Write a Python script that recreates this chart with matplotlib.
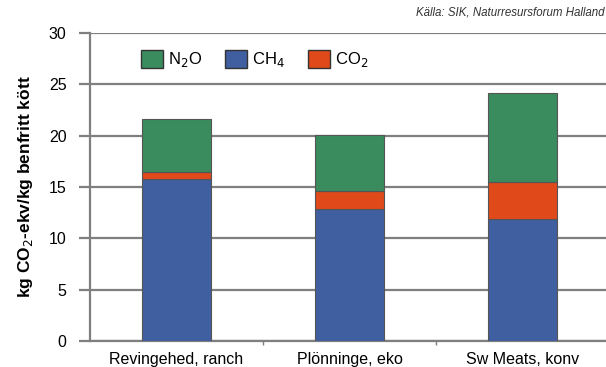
import matplotlib.pyplot as plt
import numpy as np
from matplotlib.patches import Patch

categories = ["Revingehed, ranch", "Plönninge, eko", "Sw Meats, konv"]
ch4 = [15.8, 12.85, 11.9]
co2 = [0.7, 1.75, 3.6]
n2o = [5.1, 5.45, 8.7]

c_n2o = "#3a8c5e"
c_ch4 = "#3f5fa0"
c_co2 = "#e04a1a"
grid_c = "#7f7f7f"

plt.rcParams['font.family'] = ['Liberation Sans', 'DejaVu Sans']

fig = plt.figure(figsize=(6.06, 3.67), dpi=100)
ax = fig.add_axes([90/606, 1-341/367, 1.005-90/606, (341-33)/367])

x = np.arange(len(categories))
w = 0.4
ax.bar(x, ch4, w, color=c_ch4, edgecolor="#555555", linewidth=0.8, zorder=3)
ax.bar(x, co2, w, bottom=ch4, color=c_co2, edgecolor="#555555", linewidth=0.8, zorder=3)
bot2 = [a + b for a, b in zip(ch4, co2)]
ax.bar(x, n2o, w, bottom=bot2, color=c_n2o, edgecolor="#555555", linewidth=0.8, zorder=3)

ax.set_xlim(-0.5, 2.5)
ax.set_ylim(0, 30)
ax.set_yticks(range(0, 31, 5))
ax.yaxis.grid(True, color=grid_c, linewidth=1.6, zorder=0)
ax.set_axisbelow(True)
for s in ["top", "right"]:
    ax.spines[s].set_visible(False)
ax.spines["left"].set_color(grid_c)
ax.spines["left"].set_linewidth(1.6)
ax.spines["bottom"].set_color(grid_c)
ax.spines["bottom"].set_linewidth(1.6)
ax.tick_params(axis="y", length=8, width=1.6, color=grid_c, pad=9, labelsize=11.5)
ax.set_xticks(x)
ax.set_xticklabels(categories, fontsize=11.5)
ax.tick_params(axis="x", length=0, pad=8)
ax.set_xticks([0.5, 1.5], minor=True)
ax.tick_params(axis="x", which="minor", length=3, width=1, color=grid_c)

ax.set_ylabel("kg CO$_2$-ekv/kg benfritt kött", fontsize=12.5, fontweight="bold", labelpad=10)

# legend drawn as patches
handles = [Patch(facecolor=c_n2o, edgecolor="#333333", label="N$_2$O"),
           Patch(facecolor=c_ch4, edgecolor="#333333", label="CH$_4$"),
           Patch(facecolor=c_co2, edgecolor="#333333", label="CO$_2$")]
ax.legend(handles=handles, ncol=3, loc="upper left", bbox_to_anchor=(0.07, 0.995),
          frameon=False, fontsize=12, handlelength=1.3, handleheight=1.3,
          handletextpad=0.3, columnspacing=1.4)

fig.text(0.997, 0.965, "Källa: SIK, Naturresursforum Halland", ha="right", va="center",
         fontsize=8.3, style="italic", color="#333333")

fig.savefig("out.png", dpi=100)
